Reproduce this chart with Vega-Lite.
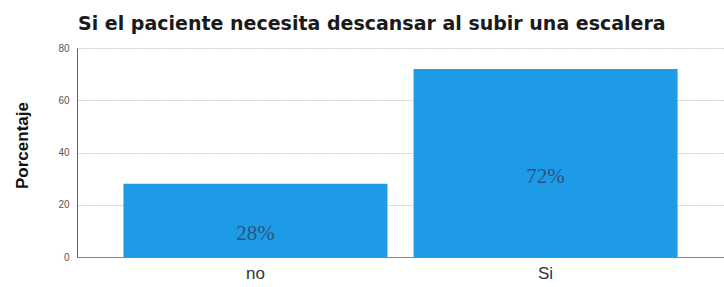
{
  "$schema": "https://vega.github.io/schema/vega-lite/v6.json",
  "autosize": {"type": "none"},
  "width": 647,
  "height": 209,
  "padding": {"left": 77, "top": 48, "right": 0, "bottom": 30},
  "background": "white",
  "title": {
    "text": "Si el paciente necesita descansar al subir una escalera",
    "anchor": "start",
    "frame": "group",
    "font": "DejaVu Sans",
    "fontSize": 19,
    "fontWeight": "bold",
    "color": "#1a1a1a",
    "offset": 9,
    "dx": 1
  },
  "data": {"values": [
    {"respuesta": "no", "porcentaje": 28, "etiqueta": "28%"},
    {"respuesta": "Si", "porcentaje": 72, "etiqueta": "72%"}
  ]},
  "encoding": {
    "x": {
      "field": "respuesta", "type": "nominal", "sort": ["no", "Si"],
      "scale": {"paddingInner": 0.09, "paddingOuter": 0.16},
      "axis": {"title": null, "labelAngle": 0, "labelFont": "Liberation Sans", "labelFontSize": 17, "labelColor": "#333333", "ticks": false, "domainColor": "#888888", "labelPadding": 8}
    }
  },
  "layer": [
    {
      "mark": {"type": "bar", "color": "#1e9be6"},
      "encoding": {
        "y": {
          "field": "porcentaje", "type": "quantitative",
          "scale": {"domain": [0, 80]},
          "axis": {"title": "Porcentaje", "titleFont": "Liberation Sans", "titleFontSize": 17, "titleFontWeight": "bold", "titleColor": "#111111", "titlePadding": 26, "titleY": 97, "values": [0, 20, 40, 60, 80], "labelFont": "Liberation Sans", "labelFontSize": 10, "labelColor": "#555555", "ticks": false, "labelPadding": 8, "domainColor": "#556677", "gridColor": "#cccccc", "gridDash": [2, 1]}
        }
      }
    },
    {
      "mark": {"type": "text", "font": "Liberation Serif", "fontSize": 21, "color": "#2a5580", "baseline": "middle", "dy": 14},
      "encoding": {
        "y": {"field": "porcentaje", "type": "quantitative", "scale": {"domain": [0, 160]}, "axis": null},
        "text": {"field": "etiqueta"}
      }
    }
  ],
  "resolve": {"scale": {"y": "independent"}},
  "config": {"view": {"stroke": null}}
}
